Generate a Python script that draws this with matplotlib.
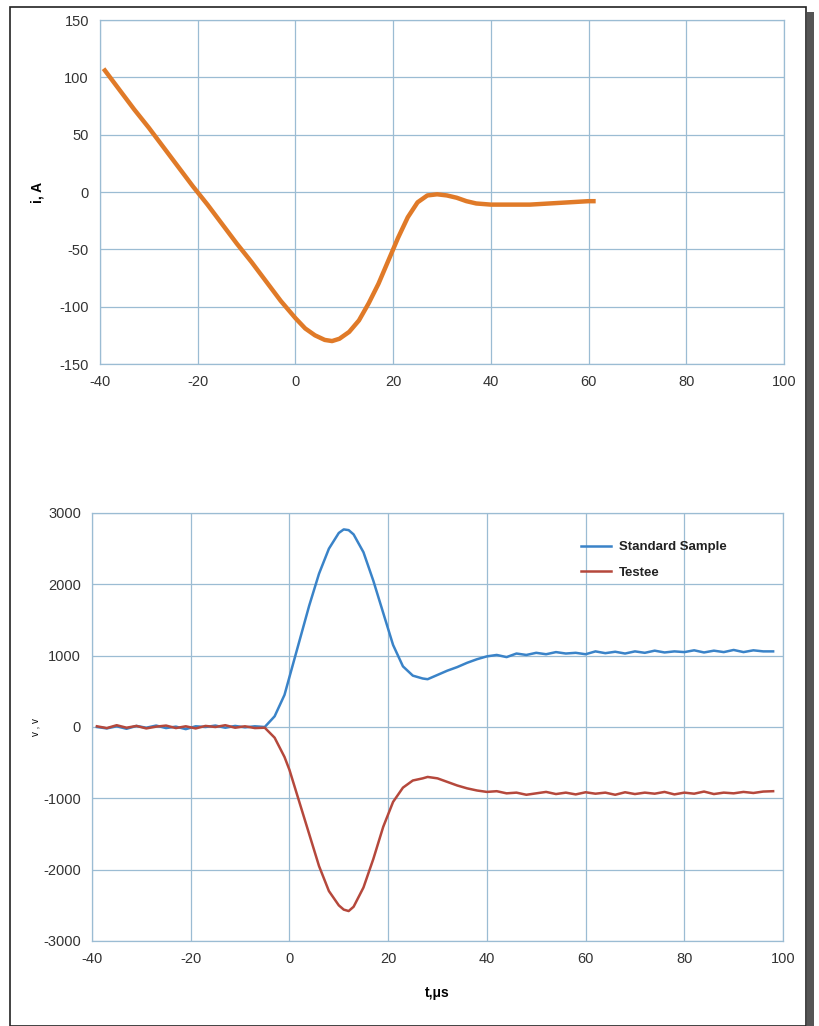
import matplotlib
matplotlib.use("Agg")
import matplotlib.pyplot as plt
from matplotlib.patches import Rectangle

plt.rcParams['font.family'] = ['Liberation Sans', 'DejaVu Sans']
plt.rcParams['axes.unicode_minus'] = False

# ---- top chart: current ----
t_i = [-39, -36, -33, -30, -27, -24, -21, -18, -15, -12, -9, -6, -3, 0, 2, 4, 6, 7.5, 9, 11, 13, 15,
       17, 19, 21, 23, 25, 27, 29, 31, 33, 35, 37, 40, 44, 48, 52, 56, 60, 61]
i_A = [106, 89, 72, 56, 39, 22, 5, -11, -28, -45, -61, -78, -95, -110, -119, -125, -129, -130, -128,
       -122, -112, -97, -80, -60, -40, -22, -9, -3, -2, -3, -5, -8, -10, -11, -11, -11, -10, -9, -8, -8]

# ---- bottom chart: voltages ----
t_v = [-39, -37, -35, -33, -31, -29, -27, -25, -23, -21, -19, -17, -15, -13, -11, -9, -7, -5,
       -3, -1, 0, 2, 4, 6, 8, 10, 11, 12, 13, 15, 17, 19, 21, 23, 25, 27, 28, 30, 32, 34, 36, 38,
       40, 42, 44, 46, 48, 50, 52, 54, 56, 58, 60, 62, 64, 66, 68, 70, 72, 74, 76, 78, 80, 82, 84,
       86, 88, 90, 92, 94, 96, 98]
v_std = [0, -20, 10, -25, 15, -10, 20, -15, 5, -30, 10, 0, 20, -10, 15, -5, 10, 0,
         150, 450, 700, 1200, 1700, 2150, 2500, 2720, 2770, 2760, 2700, 2450, 2050, 1600, 1150,
         850, 720, 680, 670, 730, 790, 840, 900, 950, 990, 1010, 980, 1030, 1010, 1040, 1020, 1050,
         1030, 1040, 1020, 1060, 1035, 1055, 1030, 1060, 1040, 1070, 1045, 1060, 1050, 1075, 1045,
         1070, 1050, 1080, 1050, 1075, 1060, 1060]
v_tst = [10, -15, 25, -10, 15, -20, 5, 20, -15, 10, -20, 15, 0, 25, -10, 10, -15, -10,
         -150, -420, -600, -1050, -1500, -1950, -2300, -2500, -2560, -2580, -2520, -2250, -1850,
         -1400, -1050, -850, -750, -720, -700, -720, -770, -820, -860, -890, -910, -900, -930,
         -920, -950, -930, -910, -940, -920, -945, -915, -935, -920, -950, -915, -940, -920, -935,
         -910, -945, -920, -935, -905, -940, -920, -930, -910, -925, -905, -900]

x_ticks = [-40, -20, 0, 20, 40, 60, 80, 100]
yi_ticks = [-150, -100, -50, 0, 50, 100, 150]
yv_ticks = [-3000, -2000, -1000, 0, 1000, 2000, 3000]

W, H = 819, 1026
fig = plt.figure(figsize=(W / 100, H / 100), dpi=100)
fig.patch.set_facecolor('white')

grid_c = '#9bbcd3'
tick_c = '#333333'

def style(ax):
    ax.grid(True, color=grid_c, linewidth=0.9)
    for s in ax.spines.values():
        s.set_color(grid_c)
        s.set_linewidth(0.9)
    ax.tick_params(length=0, labelsize=10.5, colors=tick_c, pad=8)
    ax.set_axisbelow(True)

# top axes
ax1 = fig.add_axes([100 / W, 1 - 364 / H, (784 - 100) / W, (364 - 20) / H])
ax1.plot(t_i, i_A, color='#e07a28', linewidth=3.2, solid_joinstyle='round')
ax1.set_xlim(-40, 100)
ax1.set_ylim(-150, 150)
ax1.set_xticks(x_ticks)
ax1.set_yticks(yi_ticks)
style(ax1)
ax1.set_ylabel('i, A', fontsize=10, fontweight='bold', labelpad=11)

# bottom axes
ax2 = fig.add_axes([92 / W, 1 - 941 / H, (783 - 92) / W, (941 - 513) / H])
ax2.plot(t_v, v_std, color='#3a83c8', linewidth=1.8, label='Standard Sample', solid_joinstyle='round')
ax2.plot(t_v, v_tst, color='#b5483c', linewidth=1.8, label='Testee', solid_joinstyle='round')
ax2.set_xlim(-40, 100)
ax2.set_ylim(-3000, 3000)
ax2.set_xticks(x_ticks)
ax2.set_yticks(yv_ticks)
style(ax2)
ax2.set_ylabel('v , v', fontsize=7, labelpad=2)
ax2.set_xlabel('t,\u03bcs', fontsize=10, fontweight='bold', labelpad=14)
leg = ax2.legend(loc='upper left', bbox_to_anchor=(0.69, 0.962), frameon=False, fontsize=9.5,
                 handlelength=2.3, labelspacing=1.0, handletextpad=0.6)
for txt in leg.get_texts():
    txt.set_fontweight('bold')
    txt.set_color('#222222')

# page border and shadow
fig.add_artist(Rectangle((10 / W, 0), (806 - 10) / W, 1 - 7 / H, transform=fig.transFigure,
                         fill=False, edgecolor='#222222', linewidth=1.2))
fig.add_artist(Rectangle((807 / W, 0), 7 / W, 1 - 12 / H, transform=fig.transFigure,
                         facecolor='#555555', edgecolor='none'))

fig.savefig('out.png', dpi=100)
